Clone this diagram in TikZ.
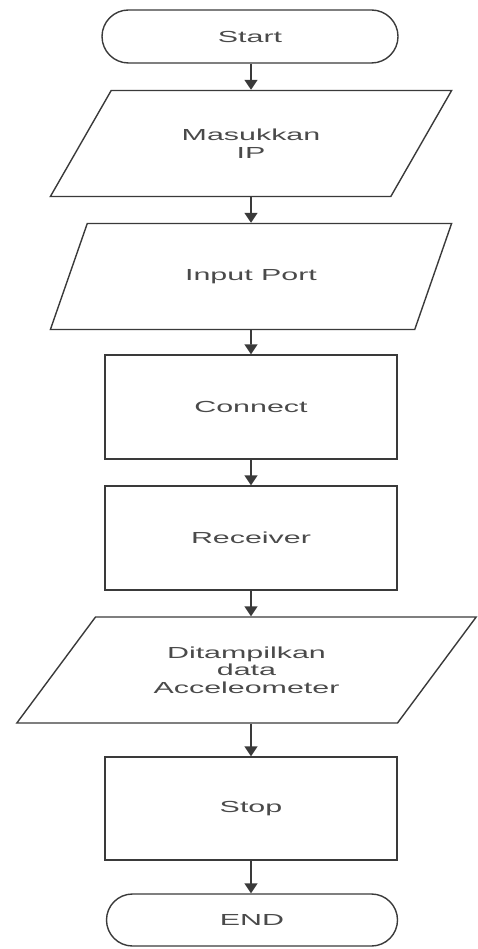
\documentclass[tikz,border=0pt]{standalone}
\usepackage{fontspec}
\setmainfont{Liberation Sans}[FakeStretch=1.9]
\usetikzlibrary{shapes.geometric,shapes.misc,arrows.meta}
\definecolor{ink}{HTML}{3A3A3A}
\definecolor{labelgray}{HTML}{4A4A4A}
\begin{document}
\begin{tikzpicture}[x=1pt,y=-1pt,
  base/.style={draw=ink,line width=1.4pt,inner sep=0pt,text=labelgray,
    font=\fontsize{16}{17.5}\selectfont,align=center},
  terminal/.style={base,rounded rectangle,minimum width=#1,minimum height=53},
  process/.style={base,rectangle,minimum width=292,minimum height=104},
  io/.style={base,trapezium,trapezium left angle=44,trapezium right angle=136,
    trapezium stretches=true,minimum width=#1,minimum height=106},
  flow/.style={draw=ink,line width=1.6pt,-{Triangle[width=13pt,length=10pt]}}]
\useasboundingbox (0,0) rectangle (478,949);

% flow chart blocks, top to bottom
\node[terminal=296] (start) at (250,36.5) {Start};
\node[io=402] (ip) at (251,143.5) {Masukkan\\IP};
\node[io=402] (port) at (251,276.5) {Input Port};
\node[process] (conn) at (251,407) {Connect};
\node[process] (recv) at (251,538) {Receiver};
\node[io=461] (show) at (246.5,670) {Ditampilkan\\data\\Acceleometer};
\node[process,minimum height=103] (stop) at (251,808.5) {Stop};
\node[terminal=291,minimum height=52] (end) at (252,920) {END};

% connectors
\draw[flow] (start.south -| ip.north) -- (ip.north);
\draw[flow] (ip.south) -- (port.north);
\draw[flow] (port.south) -- (conn.north);
\draw[flow] (conn.south) -- (recv.north);
\draw[flow] (recv.south) -- (recv.south |- show.north);
\draw[flow] (show.south -| stop.north) -- (stop.north);
\draw[flow] (stop.south) -- (stop.south |- end.north);
\end{tikzpicture}
\end{document}
